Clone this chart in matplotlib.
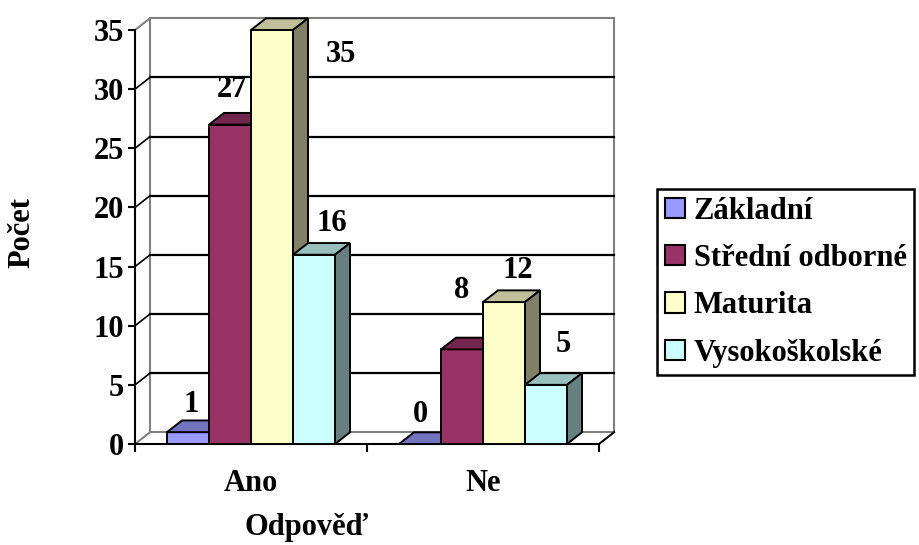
import matplotlib.pyplot as plt
import numpy as np
from matplotlib.patches import Polygon, Patch

plt.rcParams['font.family'] = ['Liberation Serif', 'DejaVu Serif']
plt.rcParams['font.weight'] = 'bold'

answers = ['Ano', 'Ne']
education = ['Základní', 'Střední odborné', 'Maturita', 'Vysokoškolské']
zakladni = [1, 0]
stredni = [27, 8]
maturita = [35, 12]
vysokoskolske = [16, 5]
y_ticks = [0, 5, 10, 15, 20, 25, 30, 35]

series = [zakladni, stredni, maturita, vysokoskolske]
colors = ['#9999FF', '#993366', '#FFFFCC', '#CCFFFF']

# value label nudges in pixels (right, up) from the bar's top centre
label_nudge = [[(3, 28), (0, 29)],
               [(2, 35), (0, 59)],
               [(69, -25), (14, 32)],
               [(18, 31), (17, 40)]]

FS = 22
fig = plt.figure(figsize=(9.2, 5.45), dpi=100)
ax = fig.add_axes([135 / 920, 101 / 545, 464 / 920, 414 / 545])
ax.set_xlim(-0.5, 1.5)
ax.set_ylim(0, 35)

# depth of the 3D box in data units
DX = 15 / 232
DY = 11.7 / (414 / 35)
x0, x1 = -0.5, 1.5
wall = '#808080'

# back wall, left wall edges and floor
ax.add_patch(Polygon([(x0 + DX, DY), (x1 + DX, DY), (x1 + DX, 35 + DY), (x0 + DX, 35 + DY)],
                     closed=True, facecolor='white', edgecolor=wall, lw=1.5, zorder=0, clip_on=False))
ax.plot([x0, x0 + DX], [35, 35 + DY], color=wall, lw=1.5, clip_on=False, zorder=1)
ax.plot([x0, x0 + DX], [0, DY], color=wall, lw=1.5, clip_on=False, zorder=1)
ax.plot([x1, x1 + DX], [0, DY], color='black', lw=1.5, clip_on=False, zorder=1)
for v in y_ticks[1:-1]:
    ax.plot([x0 + DX, x1 + DX], [v + DY, v + DY], color='black', lw=1.6, clip_on=False, zorder=1)
    ax.plot([x0, x0 + DX], [v, v + DY], color='black', lw=1.2, clip_on=False, zorder=1)

# bars: front face, top face, right side face
w = 42 / 232
x = np.arange(len(answers))
for i, (vals, c) in enumerate(zip(series, colors)):
    xs = x + (i - 1.5) * w
    rgb = np.array(plt.matplotlib.colors.to_rgb(c))
    ax.bar(xs, vals, w, color=c, edgecolor='black', lw=1.4, zorder=3 + i, clip_on=False)
    for xc, v in zip(xs, vals):
        l, r = xc - w / 2, xc + w / 2
        ax.add_patch(Polygon([(l, v), (r, v), (r + DX, v + DY), (l + DX, v + DY)], closed=True,
                             facecolor=rgb * 0.75, edgecolor='black', lw=1.4, zorder=3 + i, clip_on=False))
        if v > 0:
            ax.add_patch(Polygon([(r, 0), (r + DX, DY), (r + DX, v + DY), (r, v)], closed=True,
                                 facecolor=rgb * 0.5, edgecolor='black', lw=1.4, zorder=3 + i, clip_on=False))
    for k, (xc, v) in enumerate(zip(xs, vals)):
        ax.annotate(str(v), (xc, v), xytext=label_nudge[i][k], textcoords='offset pixels',
                    ha='center', va='center', fontsize=FS, fontweight='bold', zorder=10,
                    annotation_clip=False)

for s in ['top', 'right']:
    ax.spines[s].set_visible(False)
for s in ['left', 'bottom']:
    ax.spines[s].set_linewidth(1.5)
    ax.spines[s].set_zorder(2)

ax.set_yticks(y_ticks)
ax.tick_params(axis='y', direction='out', length=5, width=1.5, labelsize=FS, pad=3)
ax.set_xticks(x)
ax.set_xticklabels(answers)
ax.set_xticks([-0.5, 0.5, 1.5], minor=True)
ax.tick_params(axis='x', which='major', length=0, labelsize=FS, pad=18)
ax.tick_params(axis='x', which='minor', direction='out', length=6, width=1.5)
for t in ax.get_xticklabels() + ax.get_yticklabels():
    t.set_fontweight('bold')

fig.text(22 / 920, 1 - 232 / 545, 'Počet', rotation=90, ha='center', va='center',
         fontsize=FS, fontweight='bold')
fig.text(307 / 920, 1 - 527 / 545, 'Odpověď', ha='center', va='center',
         fontsize=FS, fontweight='bold')

handles = [Patch(facecolor=c, edgecolor='black', lw=1.5) for c in colors]
leg = fig.legend(handles, education, loc='upper left', bbox_to_anchor=(657 / 920, 1 - 189 / 545),
                 borderaxespad=0, fancybox=False, edgecolor='black', framealpha=1,
                 handlelength=0.65, handleheight=0.65, handletextpad=0.3, labelspacing=0.6,
                 borderpad=0.25, prop={'size': FS, 'weight': 'bold'})
leg.get_frame().set_linewidth(1.8)

fig.savefig('out.png', dpi=100)
